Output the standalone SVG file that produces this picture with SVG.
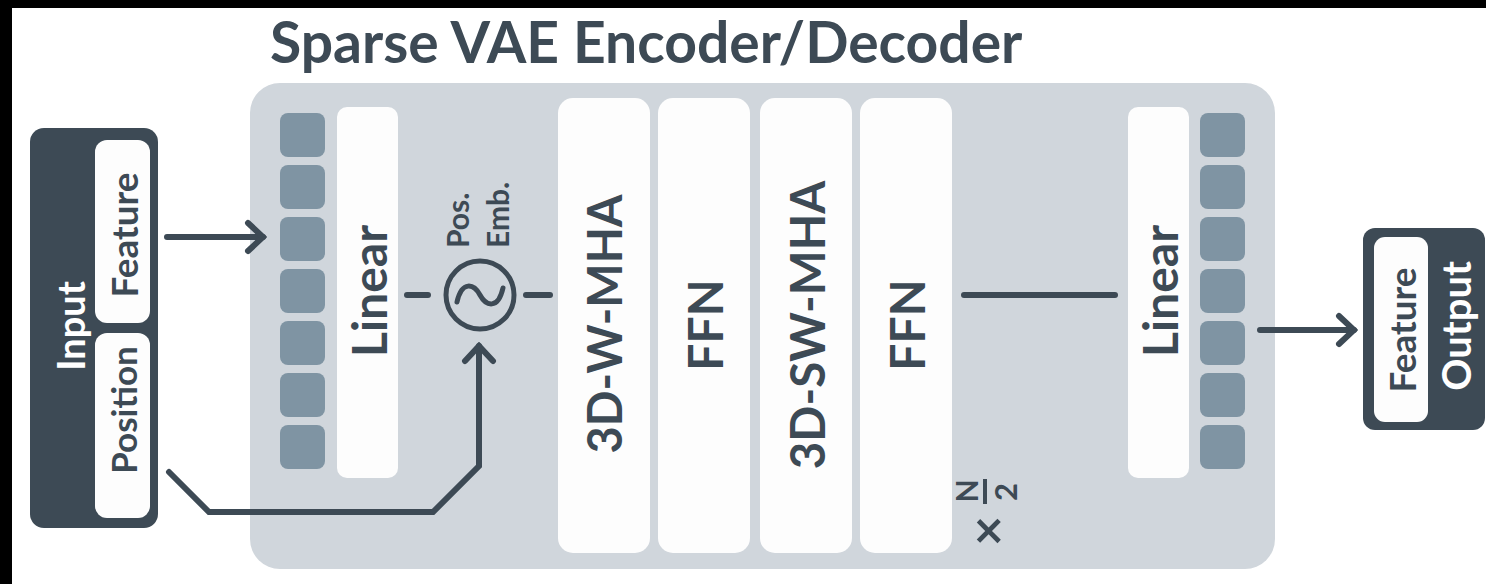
<svg xmlns="http://www.w3.org/2000/svg" width="1486" height="584" viewBox="0 0 1486 584">
<defs>
<style>
.dark{fill:#3d4a55}
.panel{fill:#d0d6dc}
.white{fill:#fdfdfd}
.sq{fill:#7f94a3}
.lbl{font-family:Lato,"Open Sans","DejaVu Sans",sans-serif;font-weight:700;fill:#3d4a55;text-anchor:middle;dominant-baseline:central}
.wl{font-family:Lato,"Open Sans","DejaVu Sans",sans-serif;fill:#ffffff;font-weight:700;text-anchor:middle;dominant-baseline:central}
.sm{font-family:Lato,"Open Sans","DejaVu Sans",sans-serif;font-weight:700;fill:#3d4a55}
.conn{fill:none;stroke:#3d4a55;stroke-width:6;stroke-linecap:round;stroke-linejoin:miter}
</style>
<marker id="arr" viewBox="0 0 24 36" refX="20" refY="18" markerWidth="24" markerHeight="36" markerUnits="userSpaceOnUse" orient="auto">
<path d="M5,4 L20,18 L5,32" fill="none" stroke="#3d4a55" stroke-width="6" stroke-linecap="round" stroke-linejoin="miter"/>
</marker>
<g id="sqcol">
<rect x="0" y="113" width="45" height="44" rx="8"/>
<rect x="0" y="165" width="45" height="44" rx="8"/>
<rect x="0" y="217" width="45" height="44" rx="8"/>
<rect x="0" y="269" width="45" height="44" rx="8"/>
<rect x="0" y="321" width="45" height="44" rx="8"/>
<rect x="0" y="373" width="45" height="44" rx="8"/>
<rect x="0" y="425" width="45" height="44" rx="8"/>
</g>
</defs>
<rect x="0" y="0" width="1486" height="584" fill="#ffffff"/>
<rect x="0" y="0" width="1486" height="8" fill="#000000"/>
<rect x="0" y="0" width="12" height="584" fill="#000000"/>

<text class="sm" x="270" y="63" font-size="57">Sparse VAE Encoder/Decoder</text>

<g id="encoder-panel">
<rect class="panel" x="250" y="83" width="1025" height="486" rx="30"/>
</g>

<g id="input">
<rect class="dark" x="30" y="128" width="128" height="400" rx="14"/>
<rect class="white" x="95" y="140" width="55" height="183" rx="12"/>
<rect class="white" x="95" y="333" width="55" height="185" rx="12"/>
<text class="wl" font-size="38" transform="translate(70,326) rotate(-90)">Input</text>
<text class="lbl" font-size="37" transform="translate(123,235) rotate(-90)">Feature</text>
<text class="lbl" font-size="35" transform="translate(123,410) rotate(-90)">Position</text>
</g>

<g id="tokens-in" class="sq"><use href="#sqcol" x="280"/></g>

<g id="linear-in">
<rect class="white" x="337" y="107" width="61" height="371" rx="10"/>
<text class="lbl" font-size="48" transform="translate(368,291) rotate(-90)">Linear</text>
</g>

<g id="pos-emb">
<circle cx="480" cy="295" r="34" fill="none" stroke="#3d4a55" stroke-width="5"/>
<path d="M457,302 C462,280 474,284 480,295 C486,306 498,310 503,288" fill="none" stroke="#3d4a55" stroke-width="5" stroke-linecap="round"/>
<text class="sm" font-size="30" transform="translate(469,248) rotate(-90)">Pos.</text>
<text class="sm" font-size="30" transform="translate(509,248) rotate(-90)">Emb.</text>
</g>

<g id="w-mha">
<rect class="white" x="558" y="98" width="92" height="455" rx="15"/>
<text class="lbl" font-size="47" transform="translate(604,324) rotate(-90)">3D-W-MHA</text>
</g>
<g id="ffn-1">
<rect class="white" x="658" y="98" width="92" height="455" rx="15"/>
<text class="lbl" font-size="48" transform="translate(704,325) rotate(-90)">FFN</text>
</g>
<g id="sw-mha">
<rect class="white" x="760" y="98" width="92" height="455" rx="15"/>
<text class="lbl" font-size="47.5" transform="translate(806,325) rotate(-90)">3D-SW-MHA</text>
</g>
<g id="ffn-2">
<rect class="white" x="860" y="98" width="92" height="455" rx="15"/>
<text class="lbl" font-size="48" transform="translate(906,325) rotate(-90)">FFN</text>
</g>

<g id="repeat">
<text class="sm" font-size="52" text-anchor="middle" dominant-baseline="central" transform="translate(986,531) rotate(-90)">×</text>
<text class="sm" font-size="30" text-anchor="middle" dominant-baseline="central" transform="translate(966,491) rotate(-90)">N</text>
<line x1="985" y1="479" x2="985" y2="504" stroke="#3d4a55" stroke-width="4"/>
<text class="sm" font-size="31" text-anchor="middle" dominant-baseline="central" transform="translate(1005,492) rotate(-90)">2</text>
</g>

<g id="linear-out">
<rect class="white" x="1128" y="107" width="61" height="371" rx="10"/>
<text class="lbl" font-size="48" transform="translate(1159,291) rotate(-90)">Linear</text>
</g>

<g id="tokens-out" class="sq"><use href="#sqcol" x="1200"/></g>

<g id="output">
<rect class="dark" x="1363" y="228" width="122" height="202" rx="12"/>
<rect class="white" x="1374" y="237" width="54" height="185" rx="11"/>
<text class="lbl" font-size="37" transform="translate(1401,330) rotate(-90)">Feature</text>
<text class="wl" font-size="40" transform="translate(1456,326) rotate(-90)">Output</text>
</g>

<g id="connectors">
<path class="conn" d="M167,237 L263,237" marker-end="url(#arr)"/>
<path class="conn" d="M169,472 L209,512 L433,512 L479,466 L479,346" marker-end="url(#arr)"/>
<path class="conn" d="M407,295 L428,295"/>
<path class="conn" d="M526,295 L550,295"/>
<path class="conn" d="M964,295 L1115,295"/>
<path class="conn" d="M1260,330 L1354,330" marker-end="url(#arr)"/>
</g>
</svg>
